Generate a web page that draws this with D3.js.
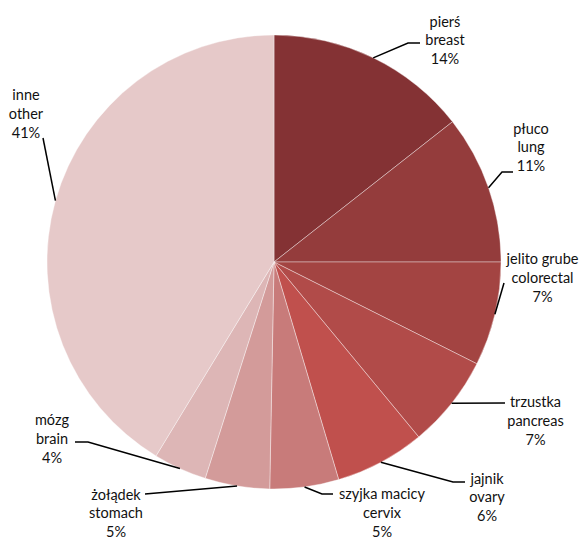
<!DOCTYPE html>
<html>
<head>
<meta charset="utf-8">
<script src="https://cdn.jsdelivr.net/npm/d3@7"></script>
<style>
  html, body { margin: 0; padding: 0; background: #fff; }
  svg { display: block; }
  text { font-family: Lato, "Open Sans", sans-serif; font-size: 14.5px; fill: #111; }
</style>
</head>
<body>
<script>
// ---- data ----
const labelsPl = ["pierś", "płuco", "jelito grube", "trzustka", "jajnik", "szyjka macicy", "żołądek", "mózg", "inne"];
const labelsEn = ["breast", "lung", "colorectal", "pancreas", "ovary", "cervix", "stomach", "brain", "other"];
const values   = [14.4, 10.6, 7.4, 6.6, 6.4, 4.9, 4.6, 3.8, 41.3];
const colors   = ["#843234", "#943c3c", "#a34442", "#b14b49", "#c0504d", "#c87b7a", "#d39b9a", "#ddb6b6", "#e6c9c9"];

// ---- layout (annotation placement) ----
const W = 582, H = 540;
const cx = 274, cy = 262, R = 227;
const labelPos = [
  [445, 21.5], [531, 128.5], [542.5, 259], [535.5, 402], [487, 478.5],
  [382, 494], [116, 494.5], [52, 420], [26, 95]
];
const leaderPts = [
  [[408, 43], [420, 43]],
  [[502, 172], [513, 172]],
  [[504, 283]],
  [[505, 403]],
  [[453, 482], [465, 482]],
  [[322, 494], [333, 494]],
  [[145, 494]],
  [[88, 442], [75, 442]],
  [[43, 138]]
];
const lineGap = 18.8;

const svg = d3.select("body").append("svg").attr("width", W).attr("height", H);
const g = svg.append("g").attr("transform", `translate(${cx},${cy})`);

const pie = d3.pie().sort(null).value(d => d);
const arcs = pie(values);
const arc = d3.arc().innerRadius(0).outerRadius(R);

g.selectAll("path.slice").data(arcs).join("path")
  .attr("class", "slice")
  .attr("d", arc)
  .attr("fill", (d, i) => colors[i])
  .attr("stroke", "rgba(255,255,255,0.55)")
  .attr("stroke-width", 0.7);

// leader lines
const line = d3.line();
arcs.forEach((a, i) => {
  const mid = (a.startAngle + a.endAngle) / 2;
  const start = [cx + R * Math.sin(mid), cy - R * Math.cos(mid)];
  svg.append("path")
    .attr("d", line([start, ...leaderPts[i]]))
    .attr("fill", "none")
    .attr("stroke", "#000")
    .attr("stroke-width", 1.5);
});

// labels
const fmt = v => Math.round(v) + "%";
arcs.forEach((a, i) => {
  const [x, y] = labelPos[i];
  const t = svg.append("text").attr("text-anchor", "middle");
  [labelsPl[i], labelsEn[i], fmt(values[i])].forEach((s, k) => {
    t.append("tspan").attr("x", x).attr("y", y + k * lineGap).attr("dy", "0.35em").text(s);
  });
});
</script>
</body>
</html>
